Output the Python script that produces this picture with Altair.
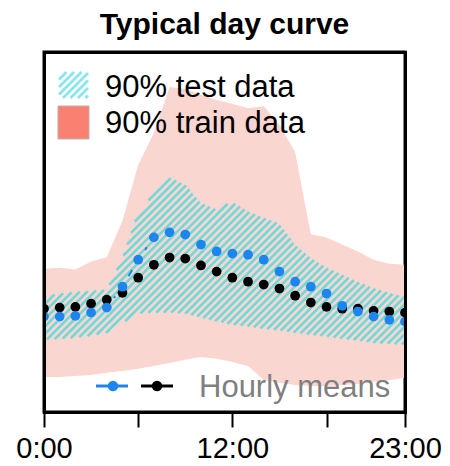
import math
import numpy as np
import altair as alt
import pandas as pd

# ---------------- data ----------------
hours = list(range(24))
mean_test = [26.5, 26.5, 26.7, 27.6, 29.0, 34.8, 42.3, 48.5, 49.9, 49.3, 46.5, 44.6,
             44.0, 43.7, 42.3, 39.0, 36.2, 34.8, 32.9, 29.5, 27.9, 26.5, 25.6, 25.1]
mean_train = [28.7, 29.0, 29.2, 30.1, 31.2, 33.1, 37.3, 40.9, 42.9, 42.6, 40.7, 39.0,
              37.3, 36.2, 35.4, 34.3, 32.3, 30.4, 29.2, 28.7, 28.7, 28.1, 27.9, 27.6]
train_hi = [39.8, 40.1, 39.6, 41.8, 43.0, 53.1, 68.6, 77.5, 90.3, 89.7, 88.1, 86.7,
            85.6, 84.4, 85.0, 79.7, 72.2, 49.4, 48.5, 46.5, 44.6, 42.3, 41.2, 40.9]
train_lo = [9.7, 9.7, 10.0, 10.3, 10.9, 11.4, 12.0, 12.8, 13.6, 14.5, 15.3, 14.8,
            13.9, 12.8, 8.9, 8.1, 7.5, 7.2, 7.2, 7.5, 7.8, 8.4, 8.9, 9.5]
test_hi = [32.3, 32.9, 33.4, 33.7, 34.0, 42.9, 55.7, 60.4, 65.2, 63.2, 58.2, 56.3,
           58.5, 55.7, 54.0, 52.4, 46.5, 42.9, 40.1, 38.2, 36.2, 34.5, 33.1, 32.0]
test_lo = [20.1, 20.3, 20.6, 21.2, 22.0, 24.8, 27.3, 27.6, 27.6, 27.3, 26.2, 25.1,
           24.2, 23.7, 23.1, 22.6, 22.0, 21.4, 20.9, 20.3, 19.8, 19.2, 18.9, 18.7]
tick_hours = [0, 6, 12, 18, 23]
tick_labels = {0: "0:00", 12: "12:00", 23: "23:00"}

# ---------------- layout / style ----------------
W, H = 361, 360
Y_MAX = 100
FONT = "Liberation Sans"
PINK = "#FAD6D1"
SALMON = "#FA8072"
CYAN = "#6ED9D8"
CYAN_LEG = "#86E6EC"
BLUE = "#1C86EE"
FW = 3
HATCH_PERIOD = 7.5   # horizontal spacing of hatch lines (px)
HATCH_WIDTH = 2.6

sx, sy = W / 23, H / Y_MAX
xs = alt.Scale(domain=[0, 23], nice=False, zero=False, padding=0)
ys = alt.Scale(domain=[0, Y_MAX], nice=False, zero=False)
label_expr = " : ".join(
    f"datum.value == {k} ? '{v}'" for k, v in tick_labels.items()) + " : ''"
x_bottom = alt.Axis(orient="bottom", values=tick_hours, labelExpr=label_expr, title=None,
                   domain=True, domainColor="black", domainWidth=FW, domainCap="square",
                   grid=False, tickColor="black", tickWidth=2, tickSize=15,
                   labelFontSize=29, labelFont=FONT, labelColor="black",
                   labelPadding=7, labelOverlap=False, labelFlush=False, zindex=1)


def box_side(orient):
    return alt.Axis(orient=orient, title=None, domain=True, domainColor="black",
                    domainWidth=FW, domainCap="square", ticks=False, labels=False,
                    grid=False, zindex=1)


def hatch_lines(x0, x1, lo_fn, hi_fn, period):
    """'/' hatch lines clipped to the region lo(x) <= y <= hi(x) (pixel units, y up)."""
    xsamp = np.arange(x0, x1 + 1e-9, 0.25)
    lo, hi = lo_fn(xsamp), hi_fn(xsamp)
    out = []
    c = x0 - hi.max()
    while c <= x1 - lo.min():
        yl = xsamp - c
        idx = np.flatnonzero((yl >= lo) & (yl <= hi))
        if idx.size:
            br = np.flatnonzero(np.diff(idx) > 1)
            starts = np.concatenate(([idx[0]], idx[br + 1]))
            ends = np.concatenate((idx[br], [idx[-1]]))
            for a, b in zip(starts, ends):
                if b > a:
                    out.append({"x": xsamp[a] / sx, "y": yl[a] / sy,
                                "x2": xsamp[b] / sx, "y2": yl[b] / sy})
        c += period
    return out


hour_px = np.array(hours) * sx
band_rows = hatch_lines(0, W,
                        lambda x: np.interp(x, hour_px, np.array(test_lo) * sy),
                        lambda x: np.interp(x, hour_px, np.array(test_hi) * sy),
                        HATCH_PERIOD)
# legend swatch: plot-area pixels x 15..44, 20..46 from the top
leg_rows = hatch_lines(15, 44, lambda x: np.full_like(x, H - 46),
                       lambda x: np.full_like(x, H - 20), HATCH_PERIOD)
hatch_df = pd.DataFrame([dict(r, k="band") for r in band_rows] +
                        [dict(r, k="legend") for r in leg_rows])

df = pd.DataFrame({"hour": hours, "mean_test": mean_test, "mean_train": mean_train,
                   "train_hi": train_hi, "train_lo": train_lo,
                   "test_hi": test_hi, "test_lo": test_lo})

# type="b" style connecting segments (gap around each point)
GAP = 12.0
segs = []
for name, ser in (("test", mean_test), ("train", mean_train)):
    for i in range(23):
        dy = (ser[i + 1] - ser[i]) * sy
        d = math.hypot(sx, dy)
        if d > 2 * GAP + 1:
            f = GAP / d
            segs.append({"s": name, "x": i + f, "y": ser[i] + f * (ser[i + 1] - ser[i]),
                         "x2": i + 1 - f, "y2": ser[i + 1] - f * (ser[i + 1] - ser[i])})
seg_df = pd.DataFrame(segs, columns=["s", "x", "y", "x2", "y2"])

one = pd.DataFrame({"k": [0]})

train_band = alt.Chart(df).mark_area(color=PINK, opacity=1, clip=True).encode(
    x=alt.X("hour:Q", scale=xs, axis=x_bottom),
    y=alt.Y("train_lo:Q", scale=ys, axis=box_side("left")), y2="train_hi:Q")

test_hatch = alt.Chart(hatch_df).mark_rule(strokeWidth=HATCH_WIDTH, clip=True).encode(
    x=alt.X("x:Q", scale=xs, axis=box_side("top")), x2="x2:Q",
    y=alt.Y("y:Q", scale=ys, axis=box_side("right")), y2="y2:Q",
    stroke=alt.Stroke("k:N", scale=alt.Scale(domain=["band", "legend"],
                                            range=[CYAN, CYAN_LEG]), legend=None))

seg_layer = alt.Chart(seg_df).mark_rule(strokeWidth=2, clip=True).encode(
    x=alt.X("x:Q", scale=xs, axis=None), x2="x2:Q",
    y=alt.Y("y:Q", scale=ys, axis=None), y2="y2:Q",
    color=alt.Color("s:N", scale=alt.Scale(domain=["test", "train"],
                                          range=[BLUE, "black"]), legend=None))

pts_train = alt.Chart(df).mark_circle(size=95, color="black", opacity=1,
                                      clip=True).encode(
    x=alt.X("hour:Q", scale=xs, axis=None),
    y=alt.Y("mean_train:Q", scale=ys, axis=None))
pts_test = alt.Chart(df).mark_circle(size=95, color=BLUE, opacity=1,
                                     clip=True).encode(
    x=alt.X("hour:Q", scale=xs, axis=None),
    y=alt.Y("mean_test:Q", scale=ys, axis=None))

# ---------------- manual legend ----------------
leg_pink = alt.Chart(one).mark_rect(fill=SALMON, stroke="#c0b0ad", strokeWidth=1).encode(
    x=alt.value(14), x2=alt.value(45), y=alt.value(54), y2=alt.value(87))
leg_t1 = alt.Chart(one).mark_text(align="left", baseline="alphabetic", fontSize=31,
                                  font=FONT, color="black").encode(
    x=alt.value(61), y=alt.value(45), text=alt.value("90% test data"))
leg_t2 = alt.Chart(one).mark_text(align="left", baseline="alphabetic", fontSize=31,
                                  font=FONT, color="black").encode(
    x=alt.value(61), y=alt.value(80.5), text=alt.value("90% train data"))

leg_bl = alt.Chart(one).mark_rule(color=BLUE, strokeWidth=3).encode(
    x=alt.value(52), x2=alt.value(84), y=alt.value(334))
leg_bp = alt.Chart(one).mark_circle(color=BLUE, size=110, opacity=1).encode(
    x=alt.value(69), y=alt.value(334))
leg_kl = alt.Chart(one).mark_rule(color="black", strokeWidth=3).encode(
    x=alt.value(97), x2=alt.value(129), y=alt.value(334))
leg_kp = alt.Chart(one).mark_circle(color="black", size=110, opacity=1).encode(
    x=alt.value(113), y=alt.value(334))
leg_t3 = alt.Chart(one).mark_text(align="left", baseline="alphabetic", fontSize=31,
                                  font=FONT, color="#7f7f7f").encode(
    x=alt.value(155), y=alt.value(344.5), text=alt.value("Hourly means"))

chart = alt.layer(
    train_band, test_hatch, leg_pink, leg_t1, leg_t2,
    seg_layer, pts_train, pts_test,
    leg_bl, leg_kl, leg_bp, leg_kp, leg_t3,
).resolve_axis(x="independent", y="independent").properties(
    width=W, height=H,
    title=alt.Title("Typical day curve", fontSize=30, font=FONT, fontWeight="bold",
                    color="black", anchor="middle", offset=12),
    padding={"left": 36, "top": 44, "right": 37, "bottom": 46},
    autosize=alt.AutoSizeParams(type="none"),
).configure_view(stroke="black", strokeWidth=FW)

chart.save("out.html", embed_options={"renderer": "svg", "actions": False})
